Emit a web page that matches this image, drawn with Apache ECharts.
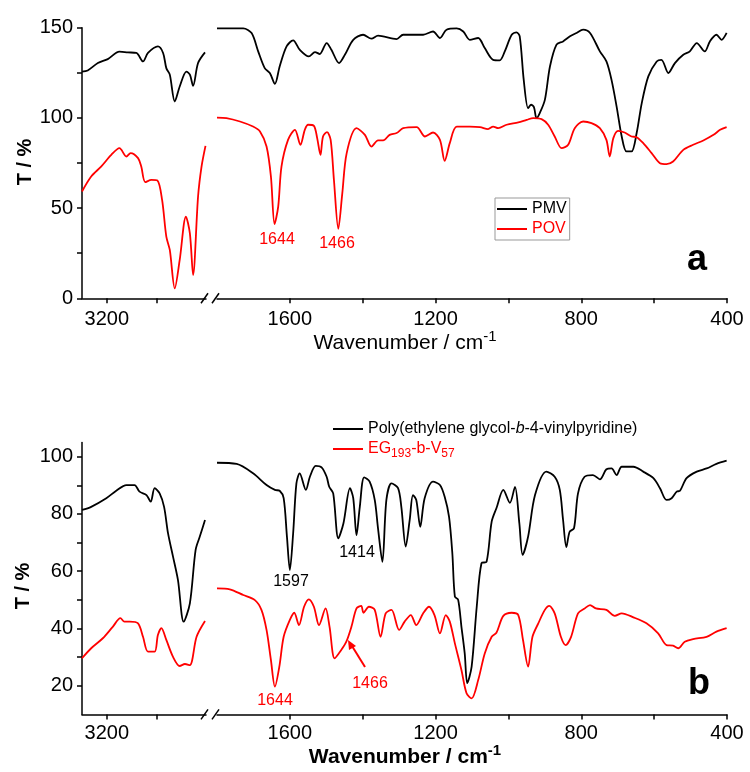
<!DOCTYPE html>
<html>
<head>
  <meta charset="utf-8">
  <title>FTIR spectra</title>
  <style>
    html, body { margin: 0; padding: 0; background: #fff; }
    #main { width: 750px; height: 772px; }
  </style>
</head>
<body>
  <div id="main"></div>
  <script src="https://cdn.jsdelivr.net/npm/echarts@6/dist/echarts.min.js"></script>
  <script>
    // panel a, [wavenumber, T%], split at the axis break
    const pmvHigh = [[3300,125.7],[3277,126.3],[3236,130.4],[3196,132.6],[3149,136.7],[3115,136.3],[3081,136],[3054,131.3],[3034,136],[2994,139.6],[2973,136],[2960,127.6],[2946,124],[2926,109.1],[2906,117.4],[2879,125.7],[2865,124],[2852,117.8],[2832,130.4],[2804,136.3]]
    const povHigh = [[3300,59.2],[3263,67.5],[3223,73],[3182,79.5],[3149,83.2],[3121,78.6],[3104,80.5],[3074,77.7],[3061,73],[3045,64.4],[3020,65.6],[2996,65.3],[2977,54.5],[2960,34.2],[2946,26.8],[2926,5.5],[2906,21.3],[2881,45.3],[2865,36],[2852,12.9],[2832,56.4],[2818,73],[2802,84.5]]
    const pmvLow = [[1800,149.6],[1728,149.6],[1705,147],[1687,136.9],[1669,127.6],[1655,124.9],[1641,118.9],[1628,128.5],[1609,139.6],[1591,143],[1573,137.8],[1548,134.1],[1531,136.5],[1518,135.4],[1499,141.5],[1486,137.8],[1465,130.4],[1449,135],[1426,143.3],[1399,146.1],[1376,143.9],[1358,145.6],[1307,143.7],[1289,146.1],[1234,146.1],[1207,147.9],[1188,144.3],[1170,148.9],[1142,149.6],[1124,147.9],[1106,143.3],[1083,144.3],[1065,138.7],[1042,132.2],[1024,131.9],[1010,136.9],[991,146.1],[978,147.4],[969,145.2],[958,121.1],[946,105.4],[938,107.3],[930,106],[923,99.9],[914,102.7],[900,110],[886,128.5],[868,140.6],[850,142.4],[831,145.2],[813,147.1],[795,148.9],[776,147.1],[749,136.9],[731,131.3],[717,121.1],[703,106.3],[689,89.7],[676,81.4],[662,81.4],[648,91.6],[634,108.2],[616,123],[593,131.3],[580,132.2],[561,124.9],[543,130.4],[520,135],[502,136.9],[483,141.5],[461,136.9],[447,142.4],[429,146.1],[415,143.3],[401,147.1]]
    const povLow = [[1800,100.2],[1774,99.9],[1737,98],[1701,95.2],[1682,92.5],[1664,84.1],[1652,67.5],[1642,41.2],[1632,50.8],[1623,73],[1605,87.8],[1586,93.4],[1571,85.1],[1559,93.4],[1550,96.2],[1534,95.6],[1525,88.8],[1516,79.5],[1509,89.7],[1498,92.1],[1488,87.8],[1479,65.6],[1467,38.5],[1456,58.3],[1444,80.5],[1417,94.3],[1394,90.6],[1376,84.1],[1358,87.5],[1344,87.5],[1326,90.6],[1307,91.6],[1289,94.3],[1252,94.9],[1229,89.7],[1207,91.9],[1188,87.8],[1175,76.2],[1161,86],[1142,95.2],[1106,95.2],[1078,94.9],[1056,93.8],[1042,95.2],[1028,94.3],[1005,96.2],[973,97.5],[950,98.9],[932,99.9],[909,99.3],[891,96.2],[873,89.7],[854,83.2],[836,85.1],[818,94.3],[795,98],[772,97.1],[749,94.3],[731,87.8],[722,78.6],[712,88.8],[699,92.8],[681,91.9],[662,89.7],[648,89.3],[630,86],[607,80.5],[584,74.9],[566,74.4],[548,75.8],[520,82.3],[493,85.1],[465,87.5],[437,90.6],[419,93.4],[401,94.9]]

    // panel b
    const pegHigh = [[3300,81.4],[3263,82.5],[3202,85.5],[3162,88.1],[3121,90.1],[3088,90.1],[3068,87.8],[3040,86.6],[3023,84.3],[3007,89],[2987,87.2],[2969,82.5],[2953,73.2],[2933,65.1],[2913,56.9],[2890,42.4],[2865,48.8],[2842,67.4],[2825,72.1],[2804,77.9]]
    const egHigh = [[3300,29.6],[3263,33.1],[3216,36.6],[3176,40.6],[3145,43.6],[3129,42.4],[3108,42.4],[3074,41.8],[3054,37.1],[3034,31.9],[3007,31.9],[2994,37.7],[2980,40.1],[2960,36],[2933,30.1],[2906,26.9],[2885,27.6],[2865,27.2],[2838,37.1],[2804,42.6]]
    const pegLow = [[1800,97.9],[1746,97.5],[1701,94.2],[1664,90.1],[1641,88.4],[1628,88.1],[1617,85.5],[1608,72.1],[1600,60.4],[1591,73.2],[1582,90.7],[1573,94.2],[1556,88.4],[1545,93],[1529,96.8],[1513,96.3],[1499,93],[1492,89.5],[1481,87.2],[1467,71.5],[1453,76.7],[1435,89],[1426,85.5],[1417,72.6],[1408,82.5],[1396,92.8],[1381,91.3],[1367,84.9],[1358,75],[1346,63.3],[1335,84.9],[1321,90.7],[1303,89],[1294,82.5],[1282,68.6],[1271,77.9],[1262,86.6],[1253,84.9],[1242,75.5],[1230,85.5],[1207,91.3],[1188,90.1],[1175,86],[1163,79],[1154,66.3],[1147,51.1],[1138,50],[1129,40.6],[1120,31.3],[1113,20.9],[1101,26.7],[1087,47.6],[1074,62.8],[1060,63.3],[1046,77.3],[1033,82],[1014,88.4],[996,83.9],[982,89.5],[970,76.7],[961,65.7],[946,72.1],[927,86.6],[896,94.8],[873,93],[859,88.4],[850,77.9],[841,68.4],[832,73.8],[820,75],[809,87.2],[791,93],[768,93.6],[749,92.1],[731,95.6],[717,95.9],[703,93.6],[689,96.5],[657,96.5],[630,94.8],[602,92.5],[584,89],[566,84.9],[552,85.5],[538,87.8],[529,88.1],[511,92.5],[483,94.8],[456,95.9],[429,97.5],[401,98.6]]
    const egLow = [[1800,54],[1765,53.7],[1728,51.7],[1696,49.9],[1678,46.5],[1664,39.5],[1652,29],[1641,19.7],[1629,26.6],[1617,37.1],[1600,43],[1588,45.5],[1575,41.2],[1561,47.6],[1548,50.2],[1534,47.6],[1520,41.2],[1502,47],[1491,40.6],[1477,29.6],[1459,32.5],[1445,35.4],[1431,40.6],[1417,47],[1404,47.9],[1398,45.5],[1383,47.6],[1367,46.5],[1351,37.1],[1337,45.3],[1321,46.5],[1300,39.5],[1285,42.4],[1268,44.7],[1253,41.2],[1234,45.3],[1218,47.6],[1203,44.7],[1188,38.3],[1172,44.7],[1161,42.4],[1147,34.8],[1129,25.5],[1115,17.4],[1101,15.6],[1083,22],[1065,31.3],[1046,37.1],[1033,38.5],[1014,44.4],[991,45.5],[973,44.7],[960,36],[946,26.7],[934,37.1],[918,41.8],[900,46.5],[888,47.9],[873,45.3],[856,37.1],[843,34.2],[828,37.1],[809,45.3],[791,47],[776,48.2],[760,47],[731,46.5],[708,44.4],[689,45.3],[657,43.9],[621,41.8],[589,38.3],[566,34.2],[548,34],[534,33.1],[516,35.4],[493,36.3],[456,37.1],[429,38.9],[401,40.1]]

    // ticks and labels
    const xTicksHigh = [3000, 3200]
    const xLabelsHigh = [3200]
    const xTicksLow = [400, 600, 800, 1000, 1200, 1400, 1600]
    const xLabelsLow = [400, 800, 1200, 1600]
    const yTicksA = [0, 25, 50, 75, 100, 125, 150]
    const yLabelsA = [0, 50, 100, 150]
    const yTicksB = [20, 30, 40, 50, 60, 70, 80, 90, 100]
    const yLabelsB = [20, 40, 60, 80, 100]

    const PEG = 'Poly(ethylene glycol-b-4-vinylpyridine)'
    const EG = 'EG193-b-V57'
    const FONT = '"Liberation Sans", Arial, sans-serif'
    const BLACK = '#000'
    const RED = '#ff0000'

    let axisLine = { show: true, onZero: false, lineStyle: { color: BLACK, width: 1.5 } }
    let plain = (v) => String(v)

    let makeX = (gridIndex, min, max, ticks, labels, margin) => ({
      type: 'value', gridIndex, min, max, inverse: true,
      axisLine,
      axisTick: { show: true, length: 5, customValues: ticks, lineStyle: { color: BLACK, width: 1.5 } },
      axisLabel: { customValues: labels, formatter: plain, fontSize: 20, color: BLACK, margin, fontFamily: FONT },
      splitLine: { show: false }
    })

    let makeY = (gridIndex, min, max, ticks, labels, show) => ({
      type: 'value', gridIndex, min, max, show,
      axisLine,
      axisTick: { show: true, length: 5, customValues: ticks, lineStyle: { color: BLACK, width: 1.5 } },
      axisLabel: { customValues: labels, formatter: plain, fontSize: 20, color: BLACK, margin: 9, fontFamily: FONT },
      splitLine: { show: false }
    })

    let makeLine = (name, data, idx, color) => ({
      name, type: 'line', data, xAxisIndex: idx, yAxisIndex: idx,
      symbol: 'none', smooth: 0.3, clip: true,
      lineStyle: { color, width: 1.8 }, itemStyle: { color }
    })

    let breakMarks = (y) => [
      { type: 'line', shape: { x1: 201, y1: y + 5, x2: 208, y2: y - 5 }, style: { stroke: BLACK, lineWidth: 1.5 } },
      { type: 'line', shape: { x1: 212, y1: y + 5, x2: 219, y2: y - 5 }, style: { stroke: BLACK, lineWidth: 1.5 } }
    ]

    let label = (text, x, y, color, size, weight) => ({
      type: 'text', x, y,
      style: { text, fill: color, font: `${weight || 'normal'} ${size}px ${FONT}`, align: 'center', verticalAlign: 'middle' }
    })

    let xTitle = (y, weight) => ({
      type: 'text', x: 405, y,
      style: {
        text: '{t|Wavenumber / cm}{s|-1}', align: 'center', verticalAlign: 'middle',
        rich: {
          t: { fontSize: 21, fontWeight: weight, fontFamily: FONT, fill: BLACK },
          s: { fontSize: 15, fontWeight: weight, fontFamily: FONT, fill: BLACK, padding: [0, 0, 12, 0] }
        }
      }
    })

    let yTitle = (x, y) => ({
      type: 'text', x, y, rotation: Math.PI / 2,
      style: { text: 'T / %', fill: BLACK, font: `bold 20px ${FONT}`, align: 'center', verticalAlign: 'middle' }
    })

    const OPTION = {
      animation: false,
      backgroundColor: '#fff',
      grid: [
        { left: 82, top: 27.7, width: 124, height: 270.6 },
        { left: 217, top: 27.7, width: 510, height: 270.6 },
        { left: 82, top: 442.4, width: 124, height: 272 },
        { left: 217, top: 442.4, width: 510, height: 272 }
      ],
      xAxis: [
        makeX(0, 2800, 3300, xTicksHigh, xLabelsHigh, 11),
        makeX(1, 400, 1800, xTicksLow, xLabelsLow, 11),
        makeX(2, 2800, 3300, xTicksHigh, xLabelsHigh, 9),
        makeX(3, 400, 1800, xTicksLow, xLabelsLow, 9)
      ],
      yAxis: [
        makeY(0, 0, 150, yTicksA, yLabelsA, true),
        makeY(1, 0, 150, yTicksA, yLabelsA, false),
        makeY(2, 10, 105, yTicksB, yLabelsB, true),
        makeY(3, 10, 105, yTicksB, yLabelsB, false)
      ],
      legend: [
        {
          data: [{ name: 'PMV', textStyle: { color: BLACK } }, { name: 'POV', textStyle: { color: RED } }],
          orient: 'vertical', left: 495, top: 198, icon: 'rect', itemWidth: 30, itemHeight: 2, itemGap: 4,
          padding: [3, 3, 3, 2], borderColor: '#999', borderWidth: 1, selectedMode: false,
          textStyle: { fontSize: 16, fontFamily: FONT }
        },
        {
          data: [PEG, EG],
          orient: 'vertical', left: 333, top: 421, icon: 'rect', itemWidth: 30, itemHeight: 2, itemGap: 4,
          padding: 0, selectedMode: false,
          formatter: (name) => name == PEG
            ? '{k|Poly(ethylene glycol-}{ki|b}{k|-4-vinylpyridine)}'
            : '{r|EG}{rs|193}{r|-b-V}{rs|57}',
          textStyle: {
            fontSize: 16, fontFamily: FONT,
            rich: {
              k: { color: BLACK, fontSize: 16, fontFamily: FONT },
              ki: { color: BLACK, fontSize: 16, fontFamily: FONT, fontStyle: 'italic' },
              r: { color: RED, fontSize: 16, fontFamily: FONT },
              rs: { color: RED, fontSize: 12, fontFamily: FONT, padding: [10, 0, 0, 0] }
            }
          }
        }
      ],
      series: [
        makeLine('PMV', pmvHigh, 0, BLACK),
        makeLine('POV', povHigh, 0, RED),
        makeLine('PMV', pmvLow, 1, BLACK),
        makeLine('POV', povLow, 1, RED),
        makeLine(PEG, pegHigh, 2, BLACK),
        makeLine(EG, egHigh, 2, RED),
        makeLine(PEG, pegLow, 3, BLACK),
        makeLine(EG, egLow, 3, RED)
      ],
      graphic: [
        ...breakMarks(298.3),
        ...breakMarks(714.4),
        label('1644', 277, 240, RED, 16),
        label('1466', 337, 244, RED, 16),
        label('1597', 291, 582, BLACK, 16),
        label('1414', 357, 553, BLACK, 16),
        label('1644', 275, 701, RED, 16),
        label('1466', 370, 684, RED, 16),
        { type: 'line', shape: { x1: 365, y1: 667, x2: 352, y2: 646 }, style: { stroke: RED, lineWidth: 2 } },
        { type: 'polygon', shape: { points: [[348, 640], [356, 646], [349, 650]] }, style: { fill: RED } },
        label('a', 697, 260, BLACK, 36, 'bold'),
        label('b', 699, 684, BLACK, 36, 'bold'),
        xTitle(343, 'normal'),
        xTitle(757, 'bold'),
        yTitle(25, 162),
        yTitle(23, 586)
      ]
    }

    let chart = echarts.init(document.querySelector('#main'))
    chart.setOption(OPTION)
  </script>
</body>
</html>
